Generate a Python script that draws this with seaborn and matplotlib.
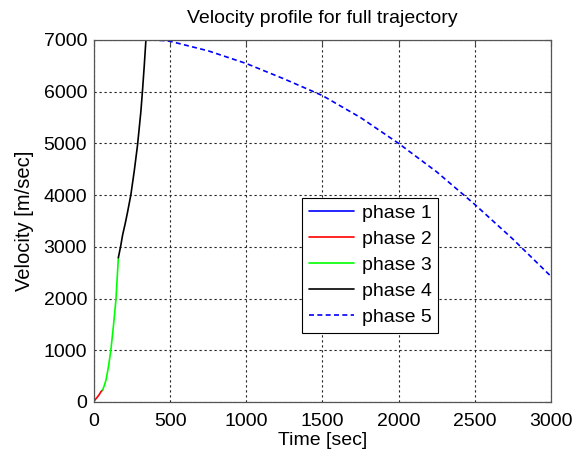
import pandas as pd
import matplotlib
matplotlib.use('Agg')
import matplotlib.pyplot as plt
import seaborn as sns

# values
t_phase1 = [341, 358, 375]
v_phase1 = [7000, 7002, 7000]
t_phase2 = [0, 7, 15, 25, 35, 46, 57]
v_phase2 = [20, 40, 70, 105, 145, 200, 232]
t_phase3 = [57, 68, 79, 95, 111, 128, 144, 152, 160]
v_phase3 = [232, 320, 425, 680, 1006, 1480, 1973, 2380, 2790]
t_phase4 = [160, 175, 188, 205, 221, 242, 265, 286, 308, 319, 330, 341]
v_phase4 = [2790, 3010, 3230, 3450, 3680, 4004, 4480, 4970, 5620, 6040, 6500, 7000]
t_phase5 = [375, 450, 500, 750, 1000, 1250, 1500, 1750, 2000, 2250, 2500, 2750, 3000]
v_phase5 = [7000, 6990, 6975, 6790, 6545, 6245, 5925, 5500, 5000, 4450, 3820, 3150, 2430]

x_ticks = [0, 500, 1000, 1500, 2000, 2500, 3000]
y_ticks = [0, 1000, 2000, 3000, 4000, 5000, 6000, 7000]

sns.set_style('white')
plt.rcParams['font.family'] = ['Liberation Sans', 'DejaVu Sans']
plt.rcParams['font.size'] = 14
plt.rcParams['text.color'] = 'black'
plt.rcParams['axes.labelcolor'] = 'black'

fig = plt.figure(figsize=(5.83, 4.57), dpi=100)
ax = fig.add_axes([0.1612, 0.1204, 0.7838, 0.7921])

phases = [
    ('phase 1', t_phase1, v_phase1, '#0000ff', '-'),
    ('phase 2', t_phase2, v_phase2, '#ff0000', '-'),
    ('phase 3', t_phase3, v_phase3, '#00ff00', '-'),
    ('phase 4', t_phase4, v_phase4, '#000000', '-'),
    ('phase 5', t_phase5, v_phase5, '#0000ff', (0, (3, 2))),
]
for name, t, v, color, ls in phases:
    df = pd.DataFrame({'t': t, 'v': v})
    sns.lineplot(data=df, x='t', y='v', ax=ax, color=color, linestyle=ls,
                 linewidth=1.2, label=name, sort=False, estimator=None)

ax.set_xlim(0, 3000)
ax.set_ylim(0, 7000)
ax.set_xticks(x_ticks)
ax.set_yticks(y_ticks)
ax.grid(True, color='#222222', linestyle=(0, (2, 2.5)), linewidth=0.8)
ax.tick_params(direction='in', top=True, right=True, length=4, width=0.8,
               colors='#444444', labelcolor='black', labelsize=14)
ax.tick_params(axis='x', pad=8)
ax.tick_params(axis='y', pad=5)
for s in ax.spines.values():
    s.set_color('#555555')
    s.set_linewidth(0.9)

ax.set_title('Velocity profile for full trajectory', fontsize=14, pad=12,
             color='black')
ax.set_xlabel('Time [sec]', fontsize=14, labelpad=1.5)
ax.set_ylabel('Velocity [m/sec]', fontsize=14.5, labelpad=7)

leg = ax.legend(loc='center', bbox_to_anchor=(0.605, 0.378), fontsize=14,
                frameon=True, fancybox=False, framealpha=1, edgecolor='black',
                handlelength=2.3, borderpad=0.35, labelspacing=0.43,
                handletextpad=0.4)
leg.get_frame().set_linewidth(0.8)
for txt in leg.get_texts():
    txt.set_color('black')

fig.savefig('out.png', dpi=100)
